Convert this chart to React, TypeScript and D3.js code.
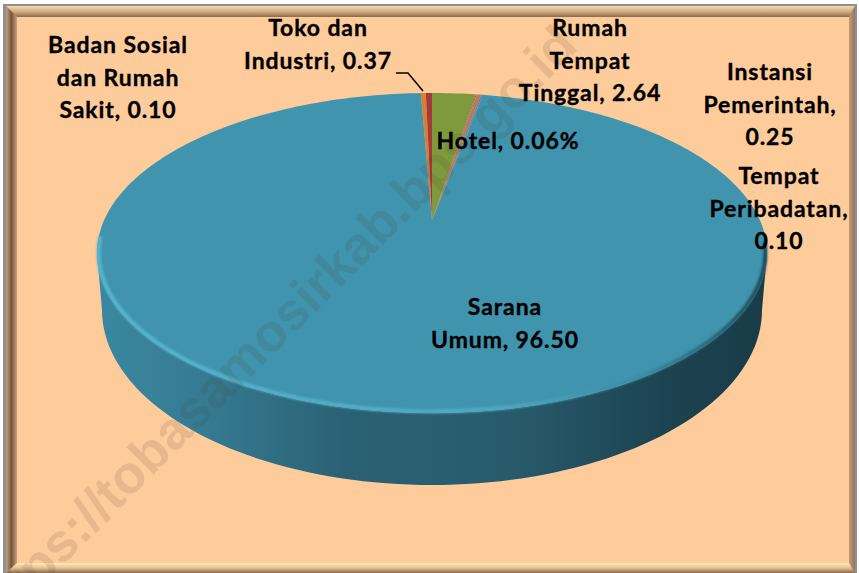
import React from 'react';
import * as d3 from 'd3';

const W = 859, H = 573;

// slice shares, read from the widths of the wedges, clockwise from the orange one
const categories = ['Badan Sosial dan Rumah Sakit', 'Toko dan Industri', 'Rumah Tempat Tinggal', 'Hotel', 'Instansi Pemerintah', 'Tempat Peribadatan', 'Sarana Umum'];
const shares = [0.30, 0.37, 2.64, 0.06, 0.25, 0.10, 96.50];
const sliceColors = ['#d8802f', '#a3393b', '#7f9a3d', '#8064a2', '#c0794a', '#5b7fb5', '#4094ae'];

const labels = [
  { lines: ['Badan Sosial', 'dan Rumah', 'Sakit, 0.10'], x: 118, y: 45 },
  { lines: ['Toko dan', 'Industri, 0.37'], x: 318, y: 28 },
  { lines: ['Rumah', 'Tempat', 'Tinggal, 2.64'], x: 590, y: 28 },
  { lines: ['Hotel, 0.06%'], x: 508, y: 141 },
  { lines: ['Instansi', 'Pemerintah,', '0.25'], x: 770, y: 72 },
  { lines: ['Tempat', 'Peribadatan,', '0.10'], x: 779, y: 176 },
  { lines: ['Sarana', 'Umum, 96.50'], x: 505, y: 307 },
];

// top face and lower rim of the disc, as unit circles through scales
const topX = d3.scaleLinear().domain([-1, 1]).range([97, 767]);
const topY = d3.scaleLinear().domain([-1, 1]).range([93, 413]);
const baseX = d3.scaleLinear().domain([-1, 1]).range([102, 762]);
const baseY = d3.scaleLinear().domain([-1, 1]).range([135, 485]);

const apexY = topY.invert(220); // the tip of the wedges sits above the ellipse centre
const firstAngle = -(0.67 / 100) * 2 * Math.PI;

// where a ray leaving the tip at this pie angle hits the rim
function rimPoint(a: number): [number, number] {
  const dx = Math.sin(a), dy = -Math.cos(a);
  const b = apexY * dy;
  const t = -b + Math.sqrt(b * b - apexY * apexY + 1);
  return [topX(t * dx), topY(apexY + t * dy)];
}

const pie = d3.pie<number>().sort(null).startAngle(firstAngle).endAngle(firstAngle + 2 * Math.PI);
const line = d3.line();

function slicePath(start: number, end: number) {
  const n = Math.max(2, Math.ceil((end - start) / 0.02));
  const pts: [number, number][] = [[topX(0), topY(apexY)]];
  d3.range(n + 1).forEach(i => pts.push(rimPoint(start + ((end - start) * i) / n)));
  return line(pts) + 'Z';
}

const halfTurn = d3.range(0, 181, 2).map(d => (d * Math.PI) / 180);
const sidePath = line([
  ...halfTurn.map(a => [baseX(Math.cos(a)), baseY(Math.sin(a))] as [number, number]),
  ...d3.range(180, -1, -2).map(d => {
    const a = (d * Math.PI) / 180;
    return [topX(Math.cos(a)), topY(Math.sin(a))] as [number, number];
  }),
]) + 'Z';
// rim highlight sits just inside the edge and runs a little past the widest points
const rimPath = line(
  d3.range(-4, 187, 2).map(d => {
    const a = (d * Math.PI) / 180;
    return [topX(0.995 * Math.cos(a)), topY(0.99 * Math.sin(a))] as [number, number];
  })
);

function App() {
  const arcs = pie(shares);
  return (
    <svg width={W} height={H} style={{ position: 'absolute', left: 0, top: 0, display: 'block' }}>
      <defs>
        <linearGradient id="side" x1="0" x2="1" y1="0" y2="0">
          <stop offset="0" stopColor="#3b87a1" />
          <stop offset="0.15" stopColor="#357c93" />
          <stop offset="0.37" stopColor="#2b6174" />
          <stop offset="0.62" stopColor="#285a6c" />
          <stop offset="0.85" stopColor="#1c4351" />
          <stop offset="1" stopColor="#193b48" />
        </linearGradient>
        <linearGradient id="rim" x1="0" x2="1" y1="0" y2="0">
          <stop offset="0" stopColor="#57b6d0" />
          <stop offset="0.6" stopColor="#50a9c3" />
          <stop offset="0.82" stopColor="#3a8aa3" />
          <stop offset="1" stopColor="#1d4a5a" />
        </linearGradient>
        <linearGradient id="fLeft" x1="0" x2="1" y1="0" y2="0">
          <stop offset="0" stopColor="#c9a27c" />
          <stop offset="0.5" stopColor="#75553c" />
          <stop offset="1" stopColor="#c8a27c" />
        </linearGradient>
        <linearGradient id="fTop" x1="0" x2="0" y1="0" y2="1">
          <stop offset="0" stopColor="#f6d9a5" />
          <stop offset="0.5" stopColor="#d3ad82" />
          <stop offset="1" stopColor="#8b6a4c" />
        </linearGradient>
        <linearGradient id="fRight" x1="0" x2="1" y1="0" y2="0">
          <stop offset="0" stopColor="#c49a74" />
          <stop offset="1" stopColor="#96755a" />
        </linearGradient>
        <linearGradient id="fBottom" x1="0" x2="0" y1="0" y2="1">
          <stop offset="0" stopColor="#fff0b8" />
          <stop offset="0.5" stopColor="#e6c08e" />
          <stop offset="1" stopColor="#8a6a50" />
        </linearGradient>
        <filter id="soft" x="-5%" y="-5%" width="110%" height="110%">
          <feGaussianBlur stdDeviation="1.3" />
        </filter>
      </defs>

      {/* frame */}
      <rect x={3} y={4} width={854} height={569} fill="#8f9096" />
      <rect x={17} y={17} width={832} height={546} fill="#fecb9a" />
      <polygon points="6,6 855,6 849,17 17,17" fill="url(#fTop)" />
      <polygon points="6,6 17,17 17,563 6,573" fill="url(#fLeft)" />
      <polygon points="855,6 855,573 849,563 849,17" fill="url(#fRight)" />
      <polygon points="17,563 849,563 855,573 6,573" fill="url(#fBottom)" />

      {/* disc */}
      <path d={sidePath} fill="url(#side)" />
      <g>
        {arcs.map((d, i) => (
          <path key={categories[i]} d={slicePath(d.startAngle, d.endAngle)} fill={sliceColors[i]} />
        ))}
      </g>
      <path d={rimPath ?? ''} fill="none" stroke="url(#rim)" strokeWidth={4} filter="url(#soft)" />

      {/* watermark, anchored at its end since the start runs off the page */}
      <text
        transform="translate(580,48) rotate(-45)"
        textAnchor="end"
        fontFamily="'Liberation Sans', sans-serif"
        fontWeight={700}
        fontSize={53}
        fill="#4a3a30"
        fillOpacity={0.13}
      >
        https://tobasamosirkab.bps.go.id
      </text>

      {/* leader for Toko dan Industri */}
      <polyline points="396,73 408,73 423,91" fill="none" stroke="#000" strokeWidth={1.5} />

      {/* data labels */}
      <g fontFamily="Lato, sans-serif" fontWeight={700} fontSize={23} letterSpacing={0.9} fill="#000" stroke="#000" strokeWidth={0.35} textAnchor="middle">
        {labels.map(l =>
          l.lines.map((t, i) => (
            <text key={t + l.x} x={l.x} y={l.y + i * 32.5} dy="0.35em">{t}</text>
          ))
        )}
      </g>
    </svg>
  );
}

export default App;
